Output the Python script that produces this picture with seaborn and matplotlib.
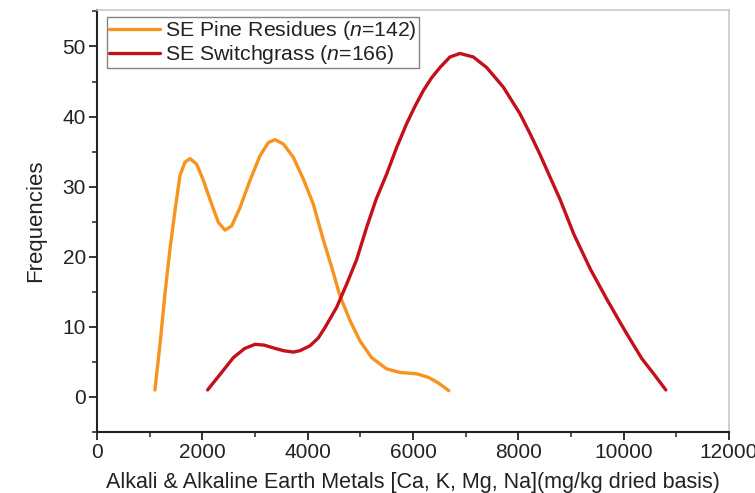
import matplotlib
matplotlib.use("Agg")
import matplotlib.pyplot as plt
import seaborn as sns
import pandas as pd
from matplotlib.ticker import MultipleLocator

# ---- data ----
pine_x = [1100, 1200, 1290, 1386, 1481, 1576, 1671, 1766, 1893, 2019, 2177, 2304, 2430,
          2557, 2715, 2905, 3095, 3253, 3380, 3537, 3727, 3917, 4107, 4290, 4456, 4614,
          4804, 4993, 5215, 5500, 5753, 6069, 6290, 6480, 6680]
pine_y = [1.0, 7.8, 14.7, 21.1, 26.6, 31.6, 33.5, 34.0, 33.2, 30.9, 27.5, 24.9, 23.8,
          24.4, 27.0, 30.9, 34.4, 36.3, 36.7, 36.1, 34.2, 31.1, 27.5, 22.6, 18.5, 14.4,
          10.9, 8.0, 5.6, 4.0, 3.5, 3.3, 2.8, 2.0, 0.9]

grass_x = [2100, 2335, 2588, 2800, 3000, 3170, 3347, 3540, 3727, 3854, 4044, 4200, 4329,
           4551, 4741, 4930, 5120, 5300, 5500, 5690, 5880, 6040, 6196, 6350, 6512, 6702,
           6892, 7145, 7398, 7715, 8031, 8220, 8411, 8600, 8791, 9055, 9370, 9698, 10020,
           10342, 10580, 10800]
grass_y = [1.0, 3.2, 5.6, 6.9, 7.5, 7.4, 7.0, 6.6, 6.4, 6.6, 7.3, 8.4, 9.9,
           12.8, 16.1, 19.6, 24.2, 28.2, 31.8, 35.6, 39.0, 41.5, 43.7, 45.5, 47.0, 48.5,
           49.0, 48.5, 47.0, 44.2, 40.4, 37.6, 34.6, 31.4, 28.2, 23.2, 18.2, 13.7, 9.5,
           5.5, 3.2, 1.0]

pine_label = "SE Pine Residues ($n$=142)"
grass_label = "SE Switchgrass ($n$=166)"
x_ticks = [0, 2000, 4000, 6000, 8000, 10000, 12000]
y_ticks = [0, 10, 20, 30, 40, 50]

pine_df = pd.DataFrame({"x": pine_x, "y": pine_y})
grass_df = pd.DataFrame({"x": grass_x, "y": grass_y})

sns.set_style("white")
plt.rcParams["font.family"] = ["Liberation Sans", "DejaVu Sans"]
plt.rcParams["mathtext.fontset"] = "custom"
plt.rcParams["mathtext.rm"] = "Liberation Sans"
plt.rcParams["mathtext.it"] = "Liberation Sans:italic"

fig = plt.figure(figsize=(7.55, 4.93), dpi=100)
ax = fig.add_axes([97 / 755, 1 - 432 / 493, 632 / 755, 422 / 493])

orange = "#F7931E"
red = "#C3101B"
sns.lineplot(data=pine_df, x="x", y="y", ax=ax, color=orange, lw=2.4, label=pine_label)
sns.lineplot(data=grass_df, x="x", y="y", ax=ax, color=red, lw=2.4, label=grass_label)
for ln in ax.get_lines():
    ln.set_solid_joinstyle("round")
    ln.set_solid_capstyle("round")

ax.set_xlim(0, 12000)
ax.set_ylim(-5, 55.2)
ax.set_xticks(x_ticks)
ax.set_yticks(y_ticks)
ax.xaxis.set_minor_locator(MultipleLocator(1000))
ax.yaxis.set_minor_locator(MultipleLocator(5))

for s in ["left", "bottom"]:
    ax.spines[s].set_color("#222222")
    ax.spines[s].set_linewidth(1.5)
for s in ["top", "right"]:
    ax.spines[s].set_color("#c8c8c8")
    ax.spines[s].set_linewidth(1.2)

ax.tick_params(axis="both", which="major", direction="out", length=6, width=1.3,
               color="#222222", labelsize=15, labelcolor="#222222", pad=2,
               bottom=True, left=True, top=False, right=False)
ax.tick_params(axis="both", which="minor", direction="out", length=3.5, width=1.1,
               color="#222222", bottom=True, left=True, top=False, right=False)

ax.set_xlabel("Alkali & Alkaline Earth Metals [Ca, K, Mg, Na](mg/kg dried basis)",
              fontsize=15.5, color="#222222", labelpad=7)
ax.set_ylabel("Frequencies", fontsize=16, color="#222222", labelpad=12)

leg = ax.legend(loc="upper left", bbox_to_anchor=(0.0153, 0.983), borderaxespad=0,
                fontsize=15.3, frameon=True, fancybox=False, handlelength=2.4,
                handletextpad=0.25, labelspacing=0.05, borderpad=0.1)
leg.get_frame().set_edgecolor("#666666")
leg.get_frame().set_linewidth(1.0)
for t in leg.get_texts():
    t.set_color("#222222")

fig.savefig("out.png", dpi=100)
